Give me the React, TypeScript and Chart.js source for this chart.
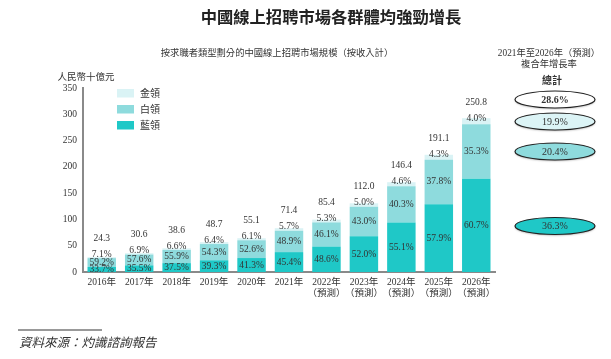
import React, { useEffect, useRef } from "react";
import { Chart, registerables } from "chart.js";

Chart.register(...registerables);

const categories: string[][] = [
  ["2016年"], ["2017年"], ["2018年"], ["2019年"], ["2020年"], ["2021年"],
  ["2022年", "（預測）"], ["2023年", "（預測）"], ["2024年", "（預測）"], ["2025年", "（預測）"], ["2026年", "（預測）"],
];
const totals = [24.3, 30.6, 38.6, 48.7, 55.1, 71.4, 85.4, 112.0, 146.4, 191.1, 250.8];
const bluePct = [33.7, 35.5, 37.5, 39.3, 41.3, 45.4, 48.6, 52.0, 55.1, 57.9, 60.7];
const whitePct = [59.2, 57.6, 55.9, 54.3, 52.6, 48.9, 46.1, 43.0, 40.3, 37.8, 35.3];
const goldPct = [7.1, 6.9, 6.6, 6.4, 6.1, 5.7, 5.3, 5.0, 4.6, 4.3, 4.0];
const yTickLabels = ["0", "50", "100", "150", "200", "250", "300", "350"];
// the original chart's axis is drawn out of proportion: the "350" tick sits at data value 300
const yAxisTop = 300;
const seriesNames = ["藍領", "白領", "金領"];
const seriesColors = ["#1fc8c7", "#8edbdd", "#daf3f5"];
const cagrLabels = ["28.6%", "19.9%", "20.4%", "36.3%"];
const cagrFills = ["#ffffff", "#dcf4f6", "#8edbdd", "#1fc8c7"];

const SERIF = '"Liberation Serif", "Noto Sans CJK TC", serif';
const CJK = '"Noto Sans CJK TC", sans-serif';

const seg = (pct: number[]) => totals.map((t, i) => (t * pct[i]) / 100);

export default function App() {
  const ref = useRef<HTMLCanvasElement | null>(null);
  useEffect(() => {
    if (!ref.current) return;
    const pcts = [bluePct, whitePct, goldPct];
    const labelsPlugin = {
      id: "labels",
      afterDatasetsDraw(chart: any) {
        const ctx = chart.ctx;
        ctx.save();
        ctx.fillStyle = "#333";
        ctx.textAlign = "center";
        ctx.textBaseline = "middle";
        ctx.font = `9.5px ${SERIF}`;
        const metas = [0, 1, 2].map((i) => chart.getDatasetMeta(i));
        totals.forEach((t, j) => {
          let goldY = 0;
          metas.forEach((m, d) => {
            const el = m.data[j];
            const c = (el.y + el.base) / 2;
            let y = c;
            if (d === 2) { y = c - 3; goldY = y; }
            ctx.fillText(pcts[d][j].toFixed(1) + "%", el.x, y);
          });
          ctx.fillText(t.toFixed(1), metas[2].data[j].x, goldY - 16);
        });
        ctx.restore();
      },
    };
    const decorPlugin = {
      id: "decor",
      afterDraw(chart: any) {
        const ctx = chart.ctx;
        ctx.save();
        ctx.fillStyle = "#222";
        ctx.textAlign = "center";
        ctx.textBaseline = "middle";
        ctx.font = `bold 16.3px ${CJK}`;
        ctx.fillText("中國線上招聘市場各群體均強勁增長", 331, 17);
        ctx.font = `9.3px ${SERIF}`;
        ctx.fillStyle = "#333";
        ctx.fillText("按求職者類型劃分的中國線上招聘市場規模（按收入計）", 277, 54);
        ctx.fillText("2021年至2026年（預測）", 549, 54);
        ctx.fillText("複合年增長率", 549, 65);
        ctx.font = `bold 10px ${CJK}`;
        ctx.fillText("總計", 552, 80);
        ctx.font = `9.5px ${SERIF}`;
        ctx.fillText("人民幣十億元", 86, 77);
        // legend
        ctx.textAlign = "left";
        const order = [2, 1, 0];
        order.forEach((d, k) => {
          const y = 93 + k * 16;
          ctx.fillStyle = seriesColors[d];
          ctx.fillRect(117, y - 4, 17, 8.5);
          ctx.fillStyle = "#333";
          ctx.font = `10px ${SERIF}`;
          ctx.fillText(seriesNames[d], 140, y + 1);
        });
        // CAGR ellipses
        const ey = [99.5, 121.5, 151.5, 226];
        cagrLabels.forEach((lab, i) => {
          ctx.save();
          ctx.shadowColor = "rgba(0,0,0,0.35)";
          ctx.shadowBlur = 2;
          ctx.shadowOffsetY = 1;
          ctx.beginPath();
          ctx.ellipse(555, ey[i], 40, 8.5, 0, 0, Math.PI * 2);
          ctx.fillStyle = cagrFills[i];
          ctx.fill();
          ctx.restore();
          ctx.beginPath();
          ctx.ellipse(555, ey[i], 40, 8.5, 0, 0, Math.PI * 2);
          ctx.strokeStyle = "#222";
          ctx.lineWidth = 1.2;
          ctx.stroke();
          ctx.fillStyle = "#333";
          ctx.textAlign = "center";
          ctx.font = (i === 0 ? "bold " : "") + `10px ${SERIF}`;
          ctx.fillText(lab, 555, ey[i] + 0.5);
        });
        // footer
        ctx.strokeStyle = "#777";
        ctx.lineWidth = 1.5;
        ctx.beginPath();
        ctx.moveTo(18, 330);
        ctx.lineTo(102, 330);
        ctx.stroke();
        ctx.fillStyle = "#333";
        ctx.textAlign = "left";
        ctx.font = `italic 12.5px ${CJK}`;
        ctx.fillText("資料來源：灼識諮詢報告", 19, 342);
        ctx.restore();
      },
    };
    const chart = new Chart(ref.current, {
      type: "bar",
      data: {
        labels: categories,
        datasets: [0, 1, 2].map((d) => ({
          label: seriesNames[d],
          data: seg(pcts[d]),
          backgroundColor: seriesColors[d],
          borderWidth: 0,
          categoryPercentage: 0.76,
          barPercentage: 1,
        })),
      },
      options: {
        animation: false,
        responsive: false,
        devicePixelRatio: 1,
        layout: { padding: { top: 88, left: 0, right: 116, bottom: 0 } },
        plugins: { legend: { display: false }, tooltip: { enabled: false }, title: { display: false } },
        scales: {
          x: {
            stacked: true,
            grid: { display: false, drawTicks: false },
            border: { display: true, color: "#8a8a8a", width: 2 },
            ticks: {
              color: "#333",
              font: { family: SERIF, size: 9.5, lineHeight: 1.15 },
              padding: 5,
              maxRotation: 0,
              autoSkip: false,
            },
            afterFit: (s: any) => { s.height = 87; },
          },
          y: {
            stacked: true,
            min: 0,
            max: yAxisTop,
            grid: { display: false, drawTicks: false },
            border: { display: true, color: "#8a8a8a", width: 2 },
            afterBuildTicks: (s: any) => {
              s.ticks = yTickLabels.map((_, i) => ({ value: (i * yAxisTop) / (yTickLabels.length - 1) }));
            },
            ticks: {
              color: "#333",
              font: { family: SERIF, size: 9.5 },
              padding: 6,
              callback: (_v: any, i: number) => yTickLabels[i],
            },
            afterFit: (s: any) => { s.width = 83; },
          },
        },
      },
      plugins: [labelsPlugin, decorPlugin],
    } as any);
    return () => chart.destroy();
  }, []);
  return (
    <div style={{ position: "fixed", left: 0, top: 0, width: 611, height: 359, background: "#fff" }}>
      <canvas ref={ref} width={611} height={359} style={{ width: 611, height: 359, display: "block" }} />
    </div>
  );
}
